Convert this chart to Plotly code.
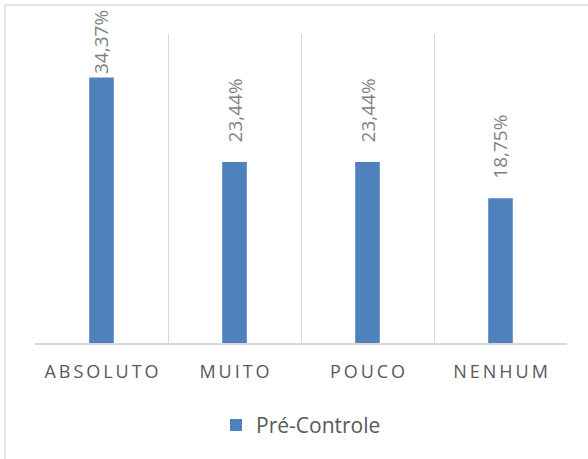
import plotly.graph_objects as go

# Survey answers and their share of respondents (%)
categories = ["ABSOLUTO", "MUITO", "POUCO", "NENHUM"]
pre_controle = [34.37, 23.44, 23.44, 18.75]
series_name = "Pré-Controle"

# Spaced-out capitals for the category axis
tick_labels = ["\u2009".join(c) for c in categories]

BAR_COLOR = "#4F81BD"
TEXT_COLOR = "#595959"
LABEL_COLOR = "#7F7F7F"
LINE_COLOR = "#D9D9D9"
FONT = "Open Sans"

W, H = 588, 459
MARGIN = dict(l=35, r=21, t=34, b=116)
Y_MAX = 40
LABEL_SIZE = 19
LABEL_LEN = 64      # approximate length of a rotated value label, px
LABEL_GAP = 17      # preferred gap between bar top and its label, px
TOP_LIMIT = 13      # labels may not go higher than this, px from top

plot_h = H - MARGIN["t"] - MARGIN["b"]
px_per_unit = plot_h / Y_MAX


def fmt_pct(v):
    return f"{v:.2f}".replace(".", ",") + "%"


fig = go.Figure()
fig.add_trace(go.Bar(
    x=categories,
    y=pre_controle,
    name=series_name,
    marker=dict(color=BAR_COLOR, line=dict(width=0)),
    showlegend=True,
    hovertemplate="%{x}: %{y:.2f}%<extra></extra>",
))

# Rotated value labels above each bar; pulled down when they would leave the chart
annotations = []
for cat, val in zip(categories, pre_controle):
    room = (Y_MAX - val) * px_per_unit + MARGIN["t"] - TOP_LIMIT - LABEL_LEN
    gap = max(1, min(LABEL_GAP, room))
    annotations.append(dict(
        x=cat, y=val, xref="x", yref="y",
        text=fmt_pct(val),
        textangle=-90,
        showarrow=False,
        xanchor="center", yanchor="bottom",
        yshift=gap,
        font=dict(family=FONT, size=LABEL_SIZE, color=LABEL_COLOR),
    ))

fig.update_layout(
    width=W,
    height=H,
    margin=MARGIN,
    paper_bgcolor="white",
    plot_bgcolor="white",
    separators=",.",
    bargap=0.815,
    font=dict(family=FONT, color=TEXT_COLOR),
    annotations=annotations,
    xaxis=dict(
        type="category",
        tickmode="array",
        tickvals=categories,
        ticktext=tick_labels,
        tickson="boundaries",
        showgrid=True,
        gridcolor=LINE_COLOR,
        gridwidth=1,
        showline=True,
        linecolor=LINE_COLOR,
        linewidth=1.5,
        ticks="",
        ticklabelstandoff=12,
        tickfont=dict(family=FONT, size=18, color=TEXT_COLOR),
        range=[-0.5, 3.5],
        fixedrange=True,
    ),
    yaxis=dict(
        range=[0, Y_MAX],
        showgrid=False,
        showticklabels=False,
        zeroline=False,
        showline=False,
        ticks="",
        fixedrange=True,
    ),
    legend=dict(
        orientation="h",
        x=0.5,
        xanchor="center",
        y=-0.2,
        yanchor="top",
        font=dict(family=FONT, size=21, color=TEXT_COLOR),
        bgcolor="rgba(0,0,0,0)",
    ),
    shapes=[
        # Chart frame (top and left edges inside the view)
        dict(type="line", xref="paper", yref="paper",
             x0=-0.0564, x1=1.2, y0=1.0939, y1=1.0939,
             line=dict(color=LINE_COLOR, width=1.5)),
        dict(type="line", xref="paper", yref="paper",
             x0=-0.0564, x1=-0.0564, y0=1.0939, y1=-0.5,
             line=dict(color=LINE_COLOR, width=1.5)),
    ],
)

fig.write_html("out.html")
